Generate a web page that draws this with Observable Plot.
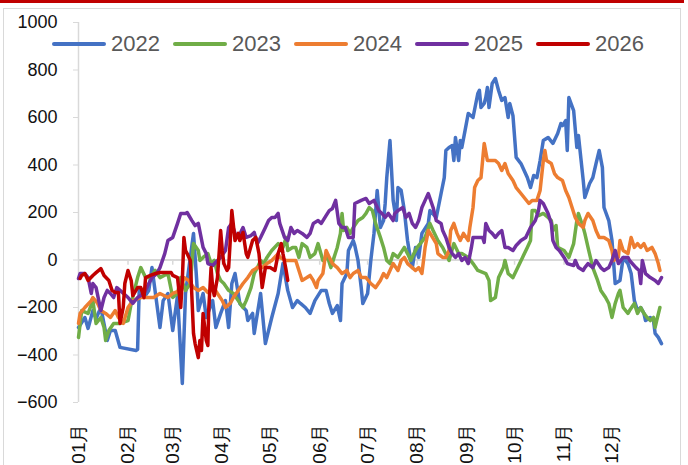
<!DOCTYPE html>
<html><head><meta charset="utf-8">
<script src="https://cdn.jsdelivr.net/npm/d3@7"></script>
<script src="https://cdn.jsdelivr.net/npm/@observablehq/plot@0.6"></script>
<style>
body{margin:0;background:#fff;}
#wrap{position:relative;width:688px;height:465px;overflow:hidden;background:#fff;}
#topbar{position:absolute;left:0;top:0;width:684px;height:3px;background:#C00000;}
#frame{position:absolute;left:3px;top:8px;width:678px;height:470px;border:1.5px solid #d9d9d9;box-sizing:border-box;}
#chart{position:absolute;left:0;top:0;}
#legend{position:absolute;left:52px;top:30px;display:flex;font-family:"Liberation Sans",sans-serif;font-size:22px;color:#595959;}
.item{display:flex;align-items:center;width:121px;height:28px;}
.sw{width:54px;height:4px;border-radius:2px;margin-right:5px;}
</style></head>
<body>
<div id="wrap"><div id="topbar"></div><div id="frame"></div><div id="chart"></div><div id="legend"></div></div>
<script>
const years = ["2022","2023","2024","2025","2026"];
const colors = ["#4472C4","#70AD47","#ED7D31","#7030A0","#C00000"];
const months = ["01月","02月","03月","04月","05月","06月","07月","08月","09月","10月","11月","12月"];
const monthStarts = [0,31,59,90,120,151,181,212,243,273,304,334];
const yTicks = [-600,-400,-200,0,200,400,600,800,1000];

// [day of year, value]
const s2022 = [[0,-284],[4,-242],[6,-288],[9,-213],[11,-246],[14,-200],[18,-339],[20,-297],[23,-297],[26,-368],[36,-381],[37,-377],[38,-128],[41,-158],[44,-128],[46,-32],[51,-284],[53,-171],[56,-141],[59,-297],[62,-150],[65,-520],[67,-141],[72,112],[74,-86],[75,-213],[78,-141],[80,-242],[84,-171],[86,-284],[89,-225],[92,-171],[94,-284],[96,-99],[98,-57],[101,-183],[105,-213],[106,-255],[109,-225],[110,-309],[112,-225],[114,-141],[117,-352],[121,-242],[125,-141],[128,-15],[131,-128],[134,-200],[137,-171],[139,-183],[142,-200],[145,-225],[148,-171],[152,-128],[155,-128],[157,-183],[159,-225],[162,-192],[164,-255],[165,-99],[168,-57],[169,40],[172,82],[173,61],[175,-2],[177,-116],[178,-183],[181,-141],[183,-2],[185,112],[187,293],[189,137],[191,166],[192,238],[193,347],[195,503],[197,251],[199,166],[200,305],[202,293],[204,208],[206,82],[208,-2],[209,-32],[211,53],[213,11],[215,112],[219,154],[220,208],[224,179],[227,280],[229,347],[230,461],[232,474],[234,482],[235,419],[236,516],[238,419],[239,503],[240,474],[242,545],[244,617],[247,600],[250,701],[251,714],[252,642],[254,659],[255,684],[256,726],[257,642],[259,743],[261,764],[263,714],[265,672],[267,684],[269,600],[270,659],[272,608],[274,432],[277,406],[281,347],[283,305],[285,356],[287,347],[289,419],[291,503],[294,516],[297,491],[300,533],[302,575],[303,566],[305,587],[306,461],[307,684],[310,629],[312,474],[313,524],[316,335],[317,263],[320,322],[322,347],[324,406],[326,461],[328,389],[329,221],[332,166],[334,82],[336,-99],[339,-86],[341,11],[344,-15],[346,-57],[348,-171],[350,-213],[352,-200],[354,-225],[355,-255],[358,-242],[360,-255],[361,-309],[363,-326],[365,-352]];

const s2023 = [[0,-326],[2,-213],[6,-225],[9,-171],[11,-267],[14,-242],[16,-284],[17,-339],[19,-297],[22,-267],[26,-267],[31,-255],[33,-183],[37,-74],[39,-32],[42,-74],[45,-74],[48,-44],[51,-74],[56,-57],[59,-158],[62,-141],[64,-74],[67,-128],[70,-99],[72,69],[75,40],[76,-2],[78,11],[81,27],[83,-15],[85,-2],[87,-57],[89,-86],[91,-99],[94,-128],[97,-141],[100,-171],[103,-200],[105,-171],[108,-116],[110,-57],[112,-32],[114,-2],[116,-15],[118,11],[121,40],[125,69],[128,53],[130,95],[131,40],[134,53],[136,53],[138,11],[140,69],[143,53],[145,11],[148,27],[150,69],[153,-2],[156,11],[158,-32],[160,11],[162,53],[164,112],[165,196],[166,124],[168,137],[170,112],[172,137],[175,166],[178,179],[180,196],[182,221],[184,208],[186,154],[189,95],[191,53],[193,-2],[195,-15],[197,27],[200,11],[202,32],[204,53],[206,27],[208,-2],[210,27],[212,53],[214,69],[217,95],[220,154],[222,124],[225,82],[228,53],[232,-2],[235,69],[238,27],[240,27],[244,11],[247,-15],[250,-44],[255,-57],[257,-86],[258,-171],[261,-158],[263,-74],[266,-32],[267,-2],[269,-57],[272,-74],[275,-32],[278,11],[281,53],[283,82],[284,208],[286,208],[288,187],[291,196],[294,179],[296,166],[297,124],[299,145],[300,53],[304,40],[307,11],[310,69],[312,166],[313,196],[316,137],[317,112],[319,53],[322,-32],[325,-86],[327,-128],[330,-158],[332,-183],[334,-242],[336,-183],[338,-141],[339,-128],[341,-200],[344,-225],[345,-213],[348,-183],[350,-225],[352,-200],[354,-225],[356,-242],[358,-255],[360,-242],[361,-284],[362,-255],[364,-200]];

const s2024 = [[0,-267],[1,-225],[4,-200],[8,-171],[9,-158],[12,-183],[14,-213],[17,-225],[20,-242],[23,-213],[25,-242],[28,-267],[31,-200],[34,-171],[39,-158],[43,-158],[47,-158],[51,-141],[56,-158],[59,-141],[64,-128],[66,-74],[69,-86],[72,-116],[75,-128],[78,-116],[81,-137],[85,-120],[87,-141],[90,-171],[92,-200],[95,-183],[97,-158],[100,-128],[103,-99],[106,-74],[109,-44],[112,-32],[115,-32],[118,-15],[121,-2],[125,27],[126,11],[130,-2],[133,-2],[136,-2],[138,-44],[140,-86],[143,-74],[145,-65],[147,-86],[149,-116],[150,-86],[153,-57],[155,40],[157,11],[159,-15],[162,-32],[165,-57],[168,-44],[170,-74],[172,-57],[175,-44],[177,-74],[180,-74],[183,-99],[186,-116],[189,-86],[191,-57],[193,-74],[195,-44],[197,-15],[200,-44],[202,-2],[204,11],[206,-15],[209,-32],[211,-44],[213,-32],[215,-57],[217,53],[219,124],[221,103],[224,69],[225,27],[228,11],[230,11],[232,40],[233,124],[235,154],[237,112],[239,82],[241,112],[244,82],[245,137],[247,221],[248,305],[250,335],[252,347],[253,419],[254,491],[256,419],[258,419],[261,419],[263,406],[265,377],[267,406],[269,364],[272,335],[274,305],[277,280],[279,263],[282,238],[284,251],[287,251],[289,293],[291,419],[292,461],[293,419],[296,406],[298,364],[300,347],[303,335],[305,293],[307,263],[309,221],[311,179],[313,154],[316,137],[317,166],[319,196],[322,166],[324,124],[326,95],[329,95],[332,82],[334,40],[335,-2],[338,11],[339,82],[341,40],[344,27],[346,95],[348,53],[350,69],[352,53],[354,69],[356,40],[359,53],[361,27],[363,-15],[364,-44]];

const s2025 = [[0,-78],[1,-57],[4,-57],[6,-74],[8,-141],[9,-99],[11,-116],[14,-213],[16,-158],[18,-128],[20,-141],[22,-158],[24,-116],[26,-128],[31,-158],[34,-183],[37,-158],[41,-141],[44,-99],[46,-74],[49,-57],[51,-32],[54,27],[56,82],[59,95],[62,154],[64,196],[67,196],[68,200],[71,166],[73,145],[75,154],[78,53],[80,27],[81,-15],[84,-23],[87,-2],[89,11],[92,40],[94,137],[96,154],[98,112],[100,95],[103,137],[105,95],[108,103],[110,116],[112,69],[114,95],[117,137],[119,166],[121,179],[123,179],[125,196],[126,154],[129,95],[131,82],[133,137],[135,112],[137,124],[140,112],[143,95],[145,112],[147,154],[150,166],[152,154],[155,187],[157,208],[159,217],[161,251],[163,154],[165,137],[167,137],[169,95],[172,95],[173,238],[177,251],[180,259],[182,238],[185,251],[188,208],[190,196],[192,179],[194,196],[197,166],[198,196],[200,208],[203,221],[205,179],[207,196],[209,154],[211,137],[213,166],[215,221],[217,251],[219,280],[222,221],[224,166],[227,154],[228,124],[230,95],[232,53],[234,27],[236,11],[238,27],[240,-2],[242,11],[244,-15],[246,53],[247,95],[250,95],[253,95],[254,74],[255,154],[257,124],[259,112],[261,95],[263,112],[265,124],[267,53],[269,53],[272,40],[274,61],[277,82],[280,95],[283,137],[286,166],[288,208],[289,251],[291,238],[294,196],[296,154],[297,82],[299,53],[301,40],[304,11],[306,-15],[310,-23],[311,-2],[313,-32],[316,-44],[317,-32],[319,-15],[322,-32],[324,-2],[327,-32],[329,-44],[332,-32],[334,-2],[336,40],[338,-15],[341,11],[344,11],[345,-2],[349,-32],[351,-44],[352,-99],[353,-2],[355,-57],[358,-74],[361,-86],[363,-99],[365,-74]];

const s2026 = [[1,-78],[2,-65],[4,-57],[6,-86],[9,-65],[11,-53],[14,-36],[16,-65],[19,-86],[21,-128],[23,-137],[25,-137],[26,-267],[28,-200],[29,-99],[31,-44],[33,-86],[34,-150],[37,-116],[39,-116],[41,-158],[42,-74],[45,-65],[48,-57],[51,-53],[54,-53],[58,-53],[59,-65],[62,-74],[64,-200],[65,-86],[66,95],[67,40],[68,27],[70,-2],[72,-309],[73,-352],[75,-411],[76,-339],[77,-381],[78,-225],[80,-339],[81,-360],[81.5,-213],[83,-32],[84,-116],[85,-150],[87,-74],[89,124],[90,40],[91,-15],[93,-44],[94,-32],[95,82],[96,208],[98,82],[100,112],[101,82],[103,116],[105,27],[106,11],[109,82],[111,95],[113,27],[115,-116],[117,-32],[120,-32],[123,-44],[125,27],[127,69],[128,27],[130,-44],[131,-86]];

const series = [s2022,s2023,s2024,s2025,s2026];
const FONT = '"Liberation Sans",sans-serif';
const fmtY = d => d < 0 ? "\u2212" + (-d) : String(d);

const marks = [
  Plot.ruleY([0], {stroke:"#d9d9d9", strokeWidth:2}),
  Plot.ruleX(monthStarts.slice(1), {y1:0, y2:-22, stroke:"#d9d9d9", strokeWidth:1.5}),
  Plot.ruleX([0], {y1:-600, y2:1000, stroke:"#d9d9d9", strokeWidth:1.5}),
  Plot.axisY(yTicks, {anchor:"left", tickSize:5, tickPadding:16, tickFormat:fmtY, stroke:"#d9d9d9", fill:"#111", fontSize:18, fontFamily:FONT}),
  Plot.axisX(monthStarts, {anchor:"bottom", tickSize:0, tickPadding:21, tickRotate:-90, tickFormat:d=>months[monthStarts.indexOf(d)], fill:"#111", fontSize:19, fontFamily:FONT}),
];
series.forEach((s,i)=>{
  marks.push(Plot.line(s, {x:d=>d[0], y:d=>d[1], stroke:colors[i], strokeWidth:3.5, strokeLinejoin:"round", strokeLinecap:"round"}));
});

const chart = Plot.plot({
  width:688, height:465,
  marginLeft:78, marginRight:27, marginTop:22, marginBottom:63,
  style:{background:"transparent", fontFamily:FONT},
  x:{type:"linear", domain:[0,365], axis:null},
  y:{type:"linear", domain:[-600,1000], axis:null},
  marks
});
document.getElementById("chart").appendChild(chart);

const leg = document.getElementById("legend");
years.forEach((y,i)=>{
  const it = document.createElement("div"); it.className="item";
  const sw = document.createElement("div"); sw.className="sw"; sw.style.background=colors[i];
  const tx = document.createElement("span"); tx.textContent=y;
  it.appendChild(sw); it.appendChild(tx); leg.appendChild(it);
});
</script>
</body></html>
